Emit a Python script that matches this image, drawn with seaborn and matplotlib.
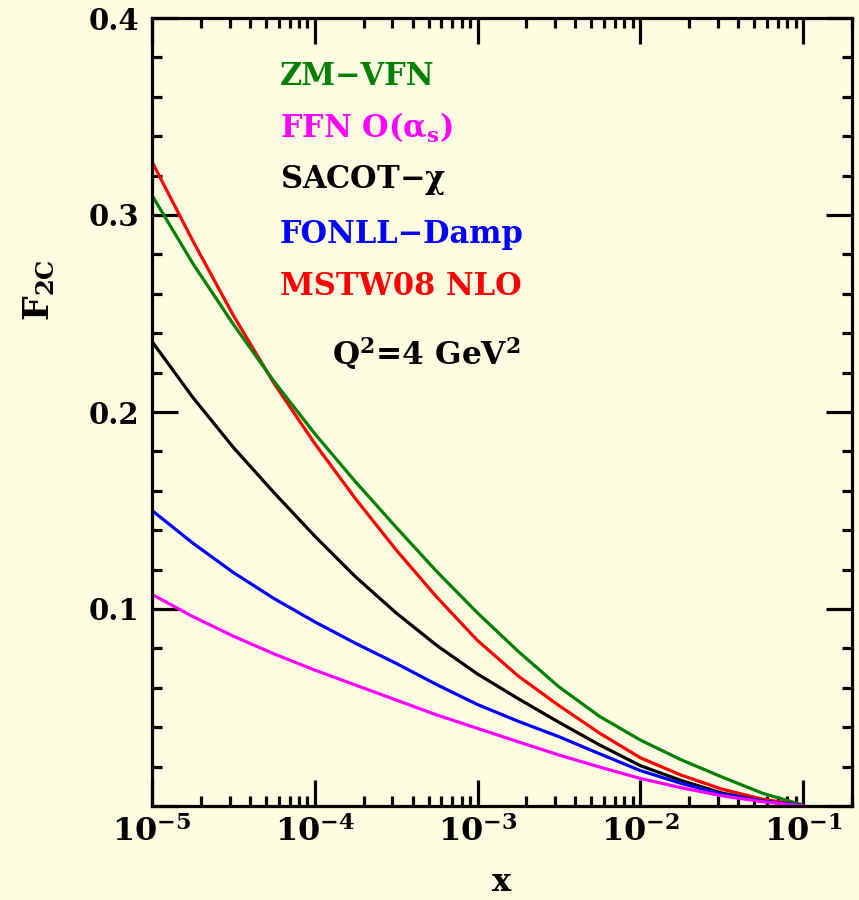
import numpy as np
import pandas as pd
import matplotlib
matplotlib.use("Agg")
import matplotlib.pyplot as plt
import matplotlib.ticker as mticker
import seaborn as sns

# ---- data ----
log_x = [-5.0, -4.75, -4.5, -4.25, -4.0, -3.75, -3.5, -3.25, -3.0, -2.75,
         -2.5, -2.25, -2.0, -1.75, -1.5, -1.25, -1.0]
zm_vfn = [0.310, 0.2755, 0.2445, 0.2155, 0.189, 0.1646, 0.1415, 0.119, 0.098, 0.0785,
          0.0605, 0.0455, 0.0335, 0.0235, 0.0148, 0.0065, 0.0005]
mstw08 = [0.327, 0.287, 0.249, 0.2145, 0.184, 0.156, 0.130, 0.106, 0.084, 0.066,
          0.051, 0.037, 0.0245, 0.0157, 0.0086, 0.0035, 0.0003]
sacot = [0.2358, 0.2075, 0.182, 0.159, 0.137, 0.1164, 0.098, 0.0815, 0.067, 0.0545,
         0.0425, 0.031, 0.0205, 0.013, 0.0066, 0.0025, 0.0002]
fonll = [0.150, 0.1335, 0.1185, 0.1053, 0.0935, 0.0826, 0.0724, 0.0616, 0.0515, 0.043,
         0.0352, 0.0265, 0.0180, 0.0115, 0.0061, 0.0025, 0.0002]
ffn = [0.1074, 0.0962, 0.0862, 0.0772, 0.069, 0.0614, 0.0538, 0.0462, 0.0394, 0.0326,
       0.0259, 0.0198, 0.014, 0.0093, 0.0052, 0.0022, 0.0001]

series_names = ["MSTW08 NLO", "ZM\u2212VFN", "SACOT\u2212\u03c7", "FONLL\u2212Damp", "FFN"]
series_vals = [mstw08, zm_vfn, sacot, fonll, ffn]
colors = {"ZM\u2212VFN": "#008000", "FFN": "#FF00FF", "SACOT\u2212\u03c7": "#000000",
          "FONLL\u2212Damp": "#0000FF", "MSTW08 NLO": "#FF0000"}

x_vals = [10.0 ** v for v in log_x]
df = pd.concat([pd.DataFrame({"x": x_vals, "F2c": vals, "scheme": name})
                for name, vals in zip(series_names, series_vals)], ignore_index=True)

# ---- style ----
bg = "#FFFDE1"
sns.set_theme(style="ticks")
plt.rcParams.update({
    "font.family": ["DejaVu Serif"],
    "font.weight": "bold",
    "mathtext.fontset": "dejavuserif",
    "mathtext.default": "bf",
    "figure.facecolor": bg,
    "axes.facecolor": bg,
    "savefig.facecolor": bg,
    "text.color": "black",
    "axes.labelcolor": "black",
    "xtick.color": "black",
    "ytick.color": "black",
    "xtick.labelcolor": "black",
    "ytick.labelcolor": "black",
})

fig = plt.figure(figsize=(8.59, 9.0), dpi=100)
ax = fig.add_axes([152 / 859, 1 - 806 / 900, 700 / 859, 788 / 900])

sns.lineplot(data=df, x="x", y="F2c", hue="scheme", palette=colors,
             hue_order=series_names, linewidth=2.3, legend=False, ax=ax,
             sort=False, estimator=None)

ax.set_xscale("log")
ax.set_xlim(1e-5, 0.2)
ax.set_ylim(0, 0.4)

for sp in ax.spines.values():
    sp.set_visible(True)
    sp.set_linewidth(2.3)
    sp.set_color("black")

ax.xaxis.set_major_locator(mticker.LogLocator(base=10, numticks=10))
ax.xaxis.set_minor_locator(mticker.LogLocator(base=10, subs=np.arange(2, 10), numticks=20))
ax.xaxis.set_minor_formatter(mticker.NullFormatter())
ax.xaxis.set_major_formatter(mticker.FuncFormatter(
    lambda v, p: r"$\mathbf{10^{%d}}$" % int(round(np.log10(v)))))

ax.set_yticks([0.0, 0.1, 0.2, 0.3, 0.4])
ax.set_yticklabels(["", "0.1", "0.2", "0.3", "0.4"])
ax.yaxis.set_minor_locator(mticker.MultipleLocator(0.02))

ax.tick_params(which="both", direction="in", top=True, right=True,
               width=2.3, color="black", labelcolor="black")
ax.tick_params(which="major", length=19)
ax.tick_params(which="minor", length=7)
ax.tick_params(axis="y", which="major", pad=9, labelsize=21)
ax.tick_params(axis="x", which="major", pad=7, labelsize=23)
for lab in ax.get_xticklabels() + ax.get_yticklabels():
    lab.set_fontweight("bold")

ax.set_xlabel("x", fontsize=23, fontweight="bold", color="black")
ax.xaxis.set_label_coords(0.5, -0.078)
ax.set_ylabel(r"F$_\mathbf{2C}$", fontsize=25, fontweight="bold", color="black")
ax.yaxis.set_label_coords(-0.135, 0.655)

# ---- in-plot labels ----
tx = 0.183
fs = 22
ax.text(tx, 0.915, "ZM\u2212VFN", color="#008000", fontsize=fs, fontweight="bold",
        transform=ax.transAxes, va="baseline")
ax.text(tx, 0.848, r"FFN O($\alpha_\mathbf{s}$)", color="#FF00FF", fontsize=fs,
        fontweight="bold", transform=ax.transAxes, va="baseline")
ax.text(tx, 0.784, r"SACOT$-\chi$", color="black", fontsize=fs, fontweight="bold",
        transform=ax.transAxes, va="baseline")
ax.text(tx, 0.7145, "FONLL\u2212Damp", color="#0000FF", fontsize=fs, fontweight="bold",
        transform=ax.transAxes, va="baseline")
ax.text(tx, 0.6485, "MSTW08 NLO", color="#FF0000", fontsize=fs, fontweight="bold",
        transform=ax.transAxes, va="baseline")
ax.text(0.257, 0.5596, r"Q$^\mathbf{2}$=4 GeV$^\mathbf{2}$", color="black", fontsize=fs + 0.5,
        fontweight="bold", transform=ax.transAxes, va="baseline")

fig.savefig("out.png", dpi=100)
